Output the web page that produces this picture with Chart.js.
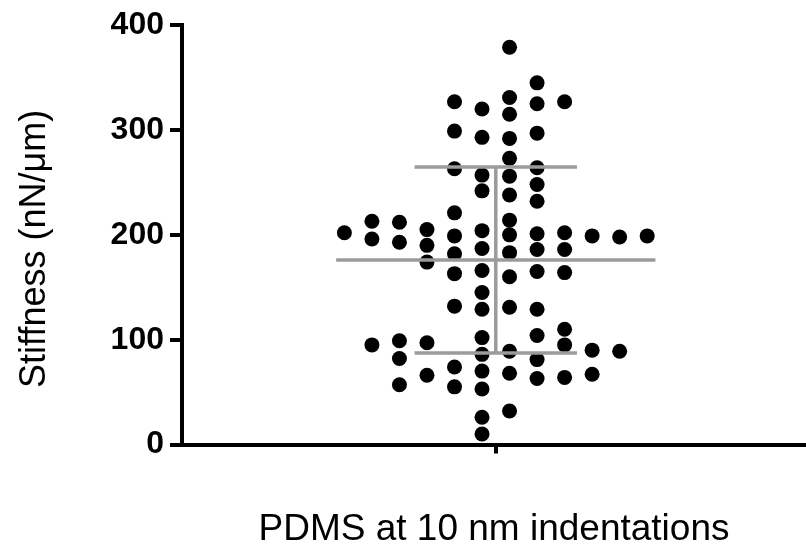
<!DOCTYPE html>
<html>
<head>
<meta charset="utf-8">
<script src="https://cdn.jsdelivr.net/npm/chart.js@4.4.1/dist/chart.umd.min.js"></script>
<style>
  html, body { margin: 0; padding: 0; background: #fff; }
  #chart { display: block; }
</style>
</head>
<body>
<canvas id="chart" width="806" height="554"></canvas>
<script>
// Stiffness of PDMS, one dot per indentation, mean ± SD in grey
const groupLabel = "PDMS at 10 nm indentations";
const yTitle = "Stiffness (nN/μm)";
const yTicks = [0, 100, 200, 300, 400];

// horizontal slot of each swarm column (in dot widths from the group centre)
const swarmColumns = [-5.5, -4.5, -3.5, -2.5, -1.5, -0.5, 0.5, 1.5, 2.5, 3.5, 4.5, 5.5];
const stiffness = [
  [202],
  [213, 196, 95],
  [212, 193, 99, 82, 57],
  [205, 190, 174, 97, 66],
  [327, 299, 263, 221, 199, 182, 163, 132, 74, 55],
  [320, 293, 257, 242, 204, 187, 166, 145, 129, 102, 86, 70, 53, 26, 10],
  [379, 331, 315, 292, 273, 256, 238, 214, 200, 183, 160, 131, 89, 68, 32],
  [345, 325, 297, 264, 248, 232, 201, 186, 165, 129, 104, 81, 63],
  [327, 202, 186, 164, 110, 95, 64],
  [199, 90, 67],
  [198, 89],
  [199],
];

const FONT = '"Liberation Sans", Arial, sans-serif';
const GREY = "#9b9b9b";

const points = [];
stiffness.forEach((col, i) => {
  col.forEach((v) => points.push({ x: swarmColumns[i], y: v }));
});

const all = points.map((p) => p.y);
const mean = all.reduce((a, b) => a + b, 0) / all.length;
const sd = Math.sqrt(all.reduce((a, b) => a + (b - mean) * (b - mean), 0) / (all.length - 1));

const meanHalf = 5.8;
const capHalf = 2.95;

function greyLine(data) {
  return {
    type: "scatter",
    data: data,
    showLine: true,
    borderColor: GREY,
    borderWidth: 3.5,
    borderCapStyle: "butt",
    pointRadius: 0,
    clip: false,
    order: 1,
  };
}

// rotated y title, sits a little below the middle of the axis
const yTitlePlugin = {
  id: "yTitle",
  afterDraw(chart) {
    const { ctx, chartArea } = chart;
    ctx.save();
    ctx.translate(35, (chartArea.top + chartArea.bottom) / 2 + 14);
    ctx.rotate(-Math.PI / 2);
    ctx.font = "36px " + FONT;
    ctx.fillStyle = "#000";
    ctx.textAlign = "center";
    ctx.textBaseline = "middle";
    ctx.fillText(yTitle, 0, 0);
    ctx.restore();
  },
};

new Chart(document.getElementById("chart"), {
  type: "scatter",
  data: {
    datasets: [
      {
        data: points,
        pointRadius: 7.5,
        pointHoverRadius: 7.5,
        backgroundColor: "#000",
        borderWidth: 0,
        clip: false,
        order: 2,
      },
      greyLine([{ x: -meanHalf, y: mean }, { x: meanHalf, y: mean }]),
      greyLine([{ x: 0, y: mean - sd }, { x: 0, y: mean + sd }]),
      greyLine([{ x: -capHalf, y: mean + sd }, { x: capHalf, y: mean + sd }]),
      greyLine([{ x: -capHalf, y: mean - sd }, { x: capHalf, y: mean - sd }]),
    ],
  },
  plugins: [yTitlePlugin],
  options: {
    responsive: false,
    animation: false,
    devicePixelRatio: 1,
    layout: { autoPadding: false, padding: { top: 21.5, right: 0, bottom: 0, left: 0 } },
    plugins: {
      legend: { display: false },
      tooltip: { enabled: false },
    },
    scales: {
      x: {
        type: "linear",
        min: -11.4,
        max: 11.27,
        afterBuildTicks: (s) => { s.ticks = [{ value: 0 }]; },
        afterFit: (s) => { s.height = 109.5; },
        grid: {
          drawOnChartArea: false,
          drawTicks: true,
          tickLength: 9,
          lineWidth: 4,
          color: "#000",
        },
        border: { display: true, width: 4, color: "#000" },
        ticks: { callback: () => "", padding: 0 },
        title: {
          display: true,
          text: groupLabel,
          color: "#000",
          font: { family: FONT, size: 37 },
          padding: { top: 0, bottom: 2 },
        },
      },
      y: {
        min: 0,
        max: 400,
        afterBuildTicks: (s) => { s.ticks = yTicks.map((v) => ({ value: v })); },
        afterFit: (s) => { s.width = 182; },
        grid: {
          drawOnChartArea: false,
          drawTicks: true,
          tickLength: 12,
          lineWidth: 4,
          color: "#000",
        },
        border: { display: true, width: 4, color: "#000" },
        ticks: {
          color: "#000",
          padding: 6,
          font: { family: FONT, size: 32, weight: "bold" },
        },
      },
    },
  },
});
</script>
</body>
</html>
